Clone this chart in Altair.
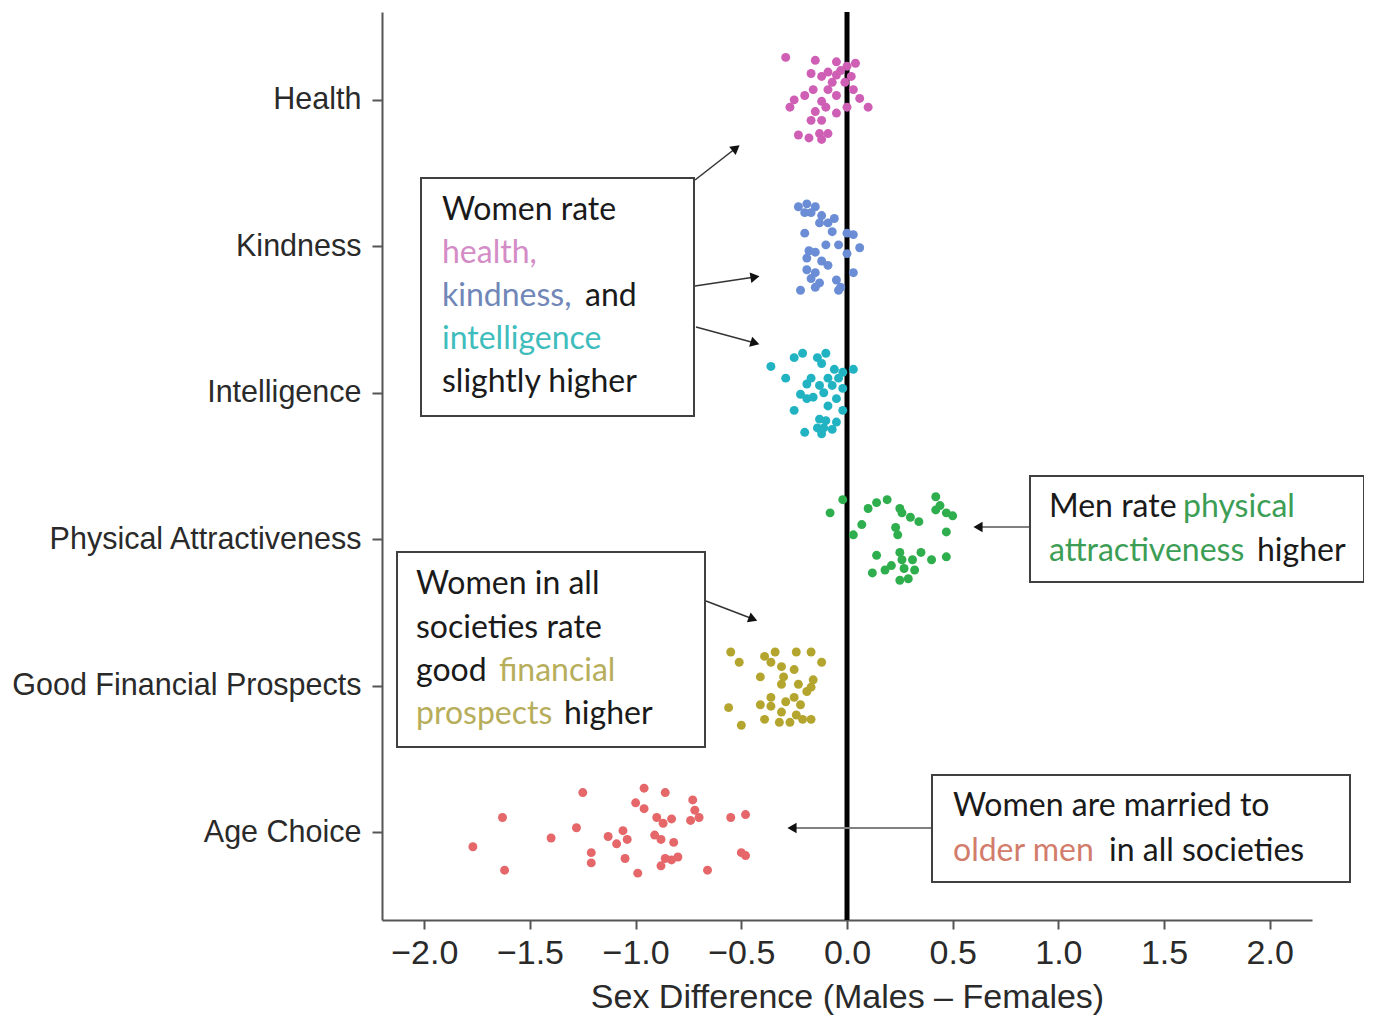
import altair as alt
import pandas as pd

categories = ["Health", "Kindness", "Intelligence", "Physical Attractiveness",
              "Good Financial Prospects", "Age Choice"]
colors = ["#CF5FB4", "#6A8DD6", "#22B3C3", "#2EAE4C", "#B4A52E", "#E5676A"]
x_ticks = [-2.0, -1.5, -1.0, -0.5, 0.0, 0.5, 1.0, 1.5, 2.0]

# sex difference values (x) and vertical scatter (fraction of row spacing)
health_x = [-0.29, -0.15, -0.05, 0.04, 0.00, -0.09, -0.17, -0.12, -0.05, 0.02, -0.07, -0.01,
            -0.16, -0.09, 0.03, -0.05, 0.06, -0.25, -0.12, -0.27, 0.10, -0.10, -0.15, -0.05,
            0.00, -0.17, -0.12, -0.23, -0.13, -0.18, -0.09, -0.12, -0.03, -0.20]
health_j = [-0.29, -0.27, -0.26, -0.25, -0.23, -0.19, -0.18, -0.16, -0.17, -0.16, -0.12, -0.12,
            -0.07, -0.07, -0.07, -0.03, -0.01, 0.00, 0.01, 0.05, 0.05, 0.05, 0.08, 0.09,
            0.05, 0.14, 0.14, 0.24, 0.23, 0.26, 0.23, 0.27, -0.20, -0.03]

kind_x = [-0.23, -0.19, -0.15, -0.20, -0.17, -0.12, -0.13, -0.09, -0.06, -0.20, -0.07, 0.00,
          0.03, -0.10, -0.04, 0.06, -0.18, -0.15, -0.19, -0.12, -0.09, -0.19, -0.15, 0.03,
          -0.17, -0.13, -0.05, -0.15, -0.03, -0.22, -0.04, 0.00]
kind_j = [-0.27, -0.29, -0.27, -0.23, -0.23, -0.21, -0.16, -0.16, -0.19, -0.09, -0.10, -0.09,
          -0.08, -0.01, -0.01, 0.01, 0.03, 0.04, 0.08, 0.10, 0.13, 0.16, 0.18, 0.18,
          0.22, 0.25, 0.23, 0.28, 0.28, 0.30, 0.30, 0.05]

intel_x = [-0.36, -0.25, -0.21, -0.14, -0.10, -0.12, -0.29, -0.06, -0.02, 0.03, -0.17, -0.09,
           -0.04, -0.19, -0.13, -0.07, -0.02, -0.22, -0.16, -0.11, -0.05, -0.19, -0.09, -0.25,
           -0.02, -0.13, -0.10, -0.05, -0.14, -0.11, -0.20, -0.12, -0.07]
intel_j = [-0.18, -0.24, -0.27, -0.24, -0.27, -0.20, -0.10, -0.16, -0.14, -0.16, -0.10, -0.10,
           -0.10, -0.06, -0.05, -0.05, -0.03, 0.01, 0.03, 0.00, 0.04, 0.04, 0.09, 0.12,
           0.12, 0.18, 0.19, 0.20, 0.24, 0.24, 0.27, 0.28, 0.25]

phys_x = [-0.02, -0.08, 0.07, 0.03, 0.10, 0.14, 0.19, 0.25, 0.26, 0.30, 0.34, 0.23,
          0.24, 0.42, 0.44, 0.42, 0.47, 0.50, 0.47, 0.14, 0.25, 0.35, 0.26, 0.31,
          0.40, 0.47, 0.12, 0.18, 0.27, 0.32, 0.25, 0.29, 0.21]
phys_j = [-0.27, -0.18, -0.10, -0.03, -0.21, -0.25, -0.27, -0.21, -0.18, -0.15, -0.12, -0.08,
          -0.03, -0.29, -0.23, -0.20, -0.18, -0.16, -0.05, 0.11, 0.09, 0.09, 0.14, 0.14,
          0.14, 0.12, 0.23, 0.21, 0.20, 0.21, 0.28, 0.27, 0.18]

fin_x = [-0.55, -0.51, -0.39, -0.34, -0.36, -0.31, -0.24, -0.17, -0.12, -0.41, -0.30, -0.25,
         -0.31, -0.23, -0.16, -0.19, -0.17, -0.36, -0.25, -0.56, -0.41, -0.36, -0.29, -0.22,
         -0.31, -0.39, -0.24, -0.17, -0.50, -0.32, -0.27, -0.21]
fin_j = [-0.23, -0.16, -0.20, -0.23, -0.16, -0.13, -0.23, -0.23, -0.16, -0.06, -0.06, -0.11,
         -0.01, -0.01, -0.04, 0.04, 0.01, 0.08, 0.08, 0.15, 0.13, 0.14, 0.11, 0.13,
         0.18, 0.23, 0.20, 0.23, 0.27, 0.25, 0.25, 0.23]

age_x = [-1.77, -1.63, -1.62, -1.40, -1.28, -1.25, -1.21, -1.21, -1.13, -1.09, -1.06, -1.04,
         -1.05, -0.99, -1.00, -0.96, -0.96, -0.86, -0.90, -0.87, -0.83, -0.91, -0.88, -0.82,
         -0.86, -0.88, -0.83, -0.80, -0.73, -0.72, -0.74, -0.70, -0.66, -0.55, -0.48, -0.50,
         -0.48]
age_j = [0.10, -0.10, 0.26, 0.04, -0.03, -0.27, 0.14, 0.21, 0.03, 0.08, -0.01, 0.05,
         0.18, 0.28, -0.20, -0.16, -0.30, -0.27, -0.10, -0.06, -0.09, 0.02, 0.05, 0.07,
         0.18, 0.23, 0.19, 0.17, -0.22, -0.15, -0.08, -0.10, 0.26, -0.10, -0.12, 0.14,
         0.16]

series = [(health_x, health_j), (kind_x, kind_j), (intel_x, intel_j),
          (phys_x, phys_j), (fin_x, fin_j), (age_x, age_j)]
rows = []
for i, (cat, (xs, js)) in enumerate(zip(categories, series), start=1):
    for xv, jv in zip(xs, js):
        rows.append({"category": cat, "diff": xv, "pos": i + jv})
df = pd.DataFrame(rows)

AXFONT = "Liberation Sans"
NOTE = "Lato"
W, H = 930, 908
OX, OY = 382, 12  # page position of plot origin

label_expr = "[''," + ",".join("'" + c + "'" for c in categories) + "][datum.value]"

points = alt.Chart(df).mark_circle(size=80, opacity=1).encode(
    x=alt.X("diff:Q",
            scale=alt.Scale(domain=[-2.2, 2.2], nice=False, zero=False),
            axis=alt.Axis(values=x_ticks, format=".1f", grid=False,
                          title="Sex Difference (Males \u2013 Females)",
                          tickSize=9, labelPadding=7, titlePadding=10,
                          labelFontSize=34, titleFontSize=34)),
    y=alt.Y("pos:Q",
            scale=alt.Scale(domain=[0.4, 6.6], reverse=True, nice=False, zero=False),
            axis=alt.Axis(values=[1, 2, 3, 4, 5, 6], labelExpr=label_expr, grid=False,
                          title=None, tickSize=10, labelPadding=11, labelLimit=0,
                          labelFontSize=30.5)),
    color=alt.Color("category:N", scale=alt.Scale(domain=categories, range=colors),
                    legend=None),
)

zero_line = alt.Chart(pd.DataFrame({"diff": [0.0]})).mark_rule(
    color="black", strokeWidth=5).encode(x="diff:Q")

one = pd.DataFrame({"a": [0]})
layers = [zero_line, points]


def box(x1, y1, x2, y2):
    return alt.Chart(one).mark_rect(fill="white", stroke="#404040", strokeWidth=2).encode(
        x=alt.value(x1 - OX), x2=alt.value(x2 - OX),
        y=alt.value(y1 - OY), y2=alt.value(y2 - OY))


def line(x1, y1, x2, y2, color="#333333", w=1.5):
    return alt.Chart(one).mark_rule(color=color, strokeWidth=w).encode(
        x=alt.value(x1 - OX), x2=alt.value(x2 - OX),
        y=alt.value(y1 - OY), y2=alt.value(y2 - OY))


def head(x, y, angle):
    return alt.Chart(one).mark_point(shape="triangle-right", filled=True, size=110,
                                     color="#111111", opacity=1, angle=angle).encode(
        x=alt.value(x - OX), y=alt.value(y - OY))


def txt(s, x, y, color="#1a1a1a"):
    return alt.Chart(one).mark_text(text=s, align="left", baseline="middle", font=NOTE,
                                    fontSize=32, color=color).encode(
        x=alt.value(x - OX), y=alt.value(y - OY))


# arrows (drawn first, under the boxes)
layers += [
    line(695, 180, 736, 148), head(736, 148, 322),
    line(695, 286, 755, 277), head(755, 277, 351),
    line(696, 327, 755, 343), head(755, 343, 17),
    line(1030, 527, 978, 527, "#808080", 2), head(978, 527, 180),
    line(706, 601, 753, 619), head(753, 619, 21),
    line(932, 828, 792, 828, "#808080", 2), head(792, 828, 180),
]

layers += [
    box(421, 178, 694, 416),
    box(1030, 476, 1364, 582),
    box(397, 552, 705, 747),
    box(932, 775, 1350, 882),
]

layers += [
    txt("Women rate", 442, 210),
    txt("health,", 442, 253, "#D48CC6"),
    txt("kindness,", 442, 296, "#7087B8"),
    txt("and", 585, 296),
    txt("intelligence", 442, 339, "#3FBDBD"),
    txt("slightly higher", 442, 382),
    txt("Men rate", 1049, 507),
    txt("physical", 1183, 507, "#3C9E55"),
    txt("attractiveness", 1049, 551, "#3C9E55"),
    txt("higher", 1257, 551),
    txt("Women in all", 416, 584),
    txt("societies rate", 416, 628),
    txt("good", 416, 671),
    txt("financial", 499, 671, "#B7AE5C"),
    txt("prospects", 416, 714, "#B7AE5C"),
    txt("higher", 564, 714),
    txt("Women are married to", 953, 806),
    txt("older men", 953, 851, "#D27C6C"),
    txt("in all societies", 1109, 851),
]

chart = alt.layer(*layers).properties(
    width=W, height=H,
    autosize=alt.AutoSizeParams(type="none"),
    padding={"left": OX - 8, "top": OY - 8, "right": 52, "bottom": 100},
).configure_view(stroke=None).configure_axis(
    domainColor="#555555", domainWidth=2, tickColor="#555555", tickWidth=2,
    labelFont=AXFONT, titleFont=AXFONT,
    labelColor="#2a2a2a", titleColor="#2a2a2a", titleFontWeight="normal",
)

chart.save("out.html", embed_options={"renderer": "svg", "actions": False})
